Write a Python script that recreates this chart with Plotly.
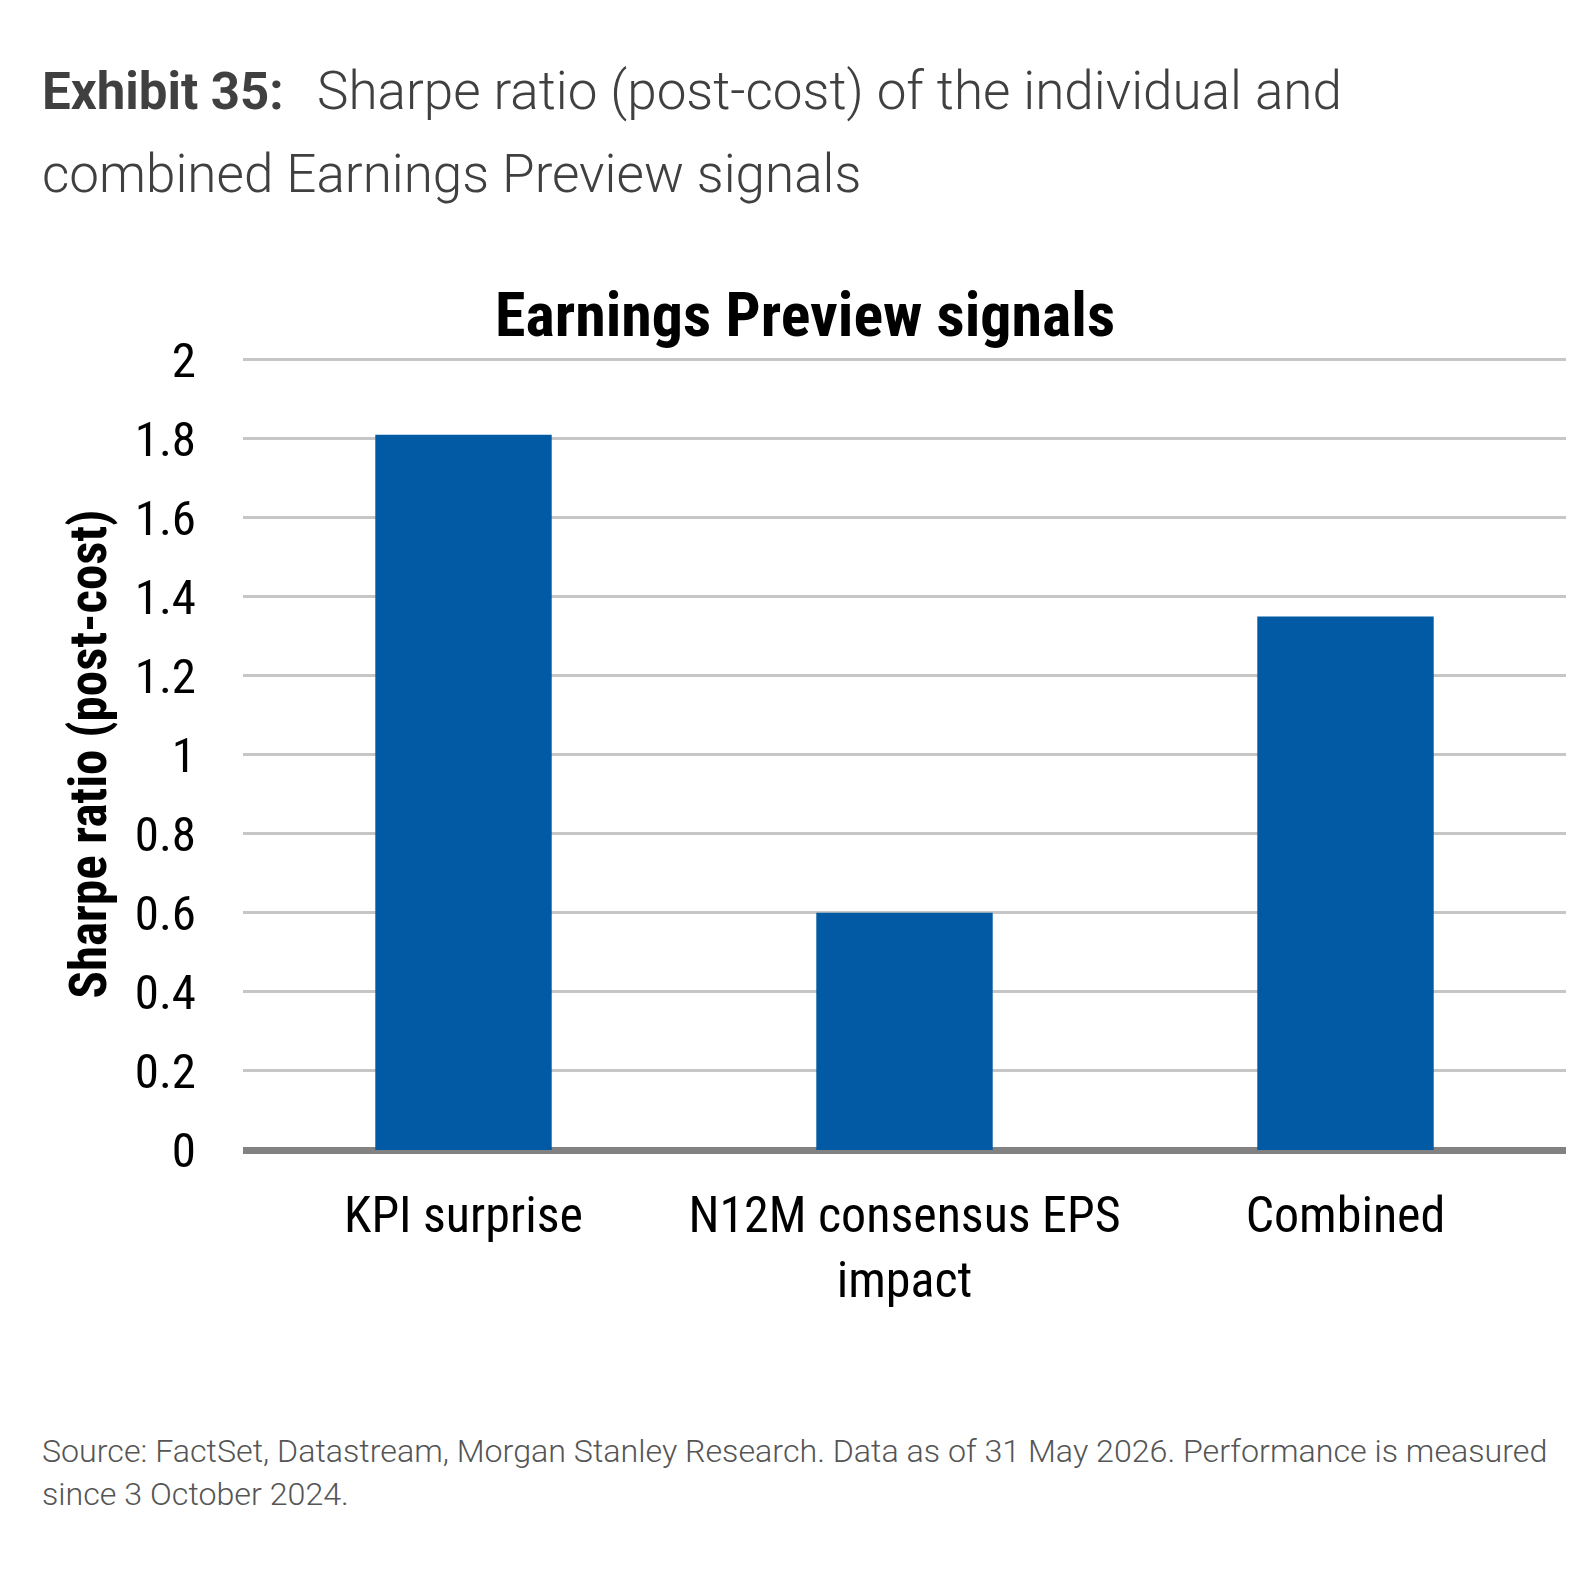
import plotly.graph_objects as go

categories = ["KPI surprise", "N12M consensus EPS<br>impact", "Combined"]
sharpe_values = [1.81, 0.60, 1.35]
y_tick_values = [0, 0.2, 0.4, 0.6, 0.8, 1.0, 1.2, 1.4, 1.6, 1.8, 2.0]
y_tick_labels = ["0", "0.2", "0.4", "0.6", "0.8", "1", "1.2", "1.4", "1.6", "1.8", "2"]

exhibit_label = "Exhibit 35:"
exhibit_line1 = "Sharpe ratio (post-cost) of the individual and"
exhibit_line2 = "combined Earnings Preview signals"
chart_title = "Earnings Preview signals"
y_title = "Sharpe ratio (post-cost)"
source_line1 = "Source: FactSet, Datastream, Morgan Stanley Research. Data as of 31 May 2026. Performance is measured"
source_line2 = "since 3 October 2024."

W, H = 1590, 1584
L, R, T, B = 235, 32, 350, 442
PW = W - L - R
PH = H - T - B

def px(x):
    return (x - L) / PW

def py(y):
    return (H - B - y) / PH

COND = "Roboto Condensed, Roboto, sans-serif"
LIGHT = "Roboto, sans-serif"

fig = go.Figure()
fig.add_trace(go.Bar(
    x=categories, y=sharpe_values,
    marker=dict(color="#015AA3", line=dict(width=0)),
    width=0.4,
))

fig.update_layout(
    width=W, height=H,
    margin=dict(l=L, r=R, t=T, b=B),
    paper_bgcolor="white", plot_bgcolor="white",
    showlegend=False,
    font=dict(family=COND, color="black"),
    xaxis=dict(
        showgrid=False, showline=False, zeroline=False,
        ticks="", tickfont=dict(size=50, family=COND, color="black"),
        ticklabelstandoff=31,
    ),
    yaxis=dict(
        range=[0, 2.004], tickvals=y_tick_values, ticktext=y_tick_labels,
        showgrid=True, gridcolor="#C6C6C6", gridwidth=2.7,
        zeroline=True, zerolinecolor="#828282", zerolinewidth=6.5,
        showline=False, ticks="",
        tickfont=dict(size=49, family=COND, color="black"),
        ticklabelstandoff=46,
        title=dict(text="<b>" + y_title + "</b>", font=dict(size=51, family=COND, color="black"), standoff=11),
    ),
)

annotations = [
    dict(text="<b>" + chart_title + "</b>", x=px(797), y=py(306), xanchor="center", yanchor="middle",
         font=dict(size=62, family=COND, color="black")),
    dict(text="<b>" + exhibit_label + "</b>", x=px(32), y=py(83), xanchor="left", yanchor="middle",
         font=dict(size=51, family="Roboto, sans-serif", color="#404040")),
    dict(text=exhibit_line1, x=px(307), y=py(83), xanchor="left", yanchor="middle",
         font=dict(size=53, family=LIGHT, color="#404040", weight=300)),
    dict(text=exhibit_line2, x=px(32), y=py(166), xanchor="left", yanchor="middle",
         font=dict(size=53, family=LIGHT, color="#404040", weight=300)),
    dict(text=source_line1, x=px(32), y=py(1443), xanchor="left", yanchor="middle",
         font=dict(size=32.2, family=LIGHT, color="#555555", weight=300)),
    dict(text=source_line2, x=px(32), y=py(1486), xanchor="left", yanchor="middle",
         font=dict(size=32.2, family=LIGHT, color="#555555", weight=300)),
]
for a in annotations:
    a.update(xref="paper", yref="paper", showarrow=False, align="left")
fig.update_layout(annotations=annotations)

fig.write_html("out.html")
